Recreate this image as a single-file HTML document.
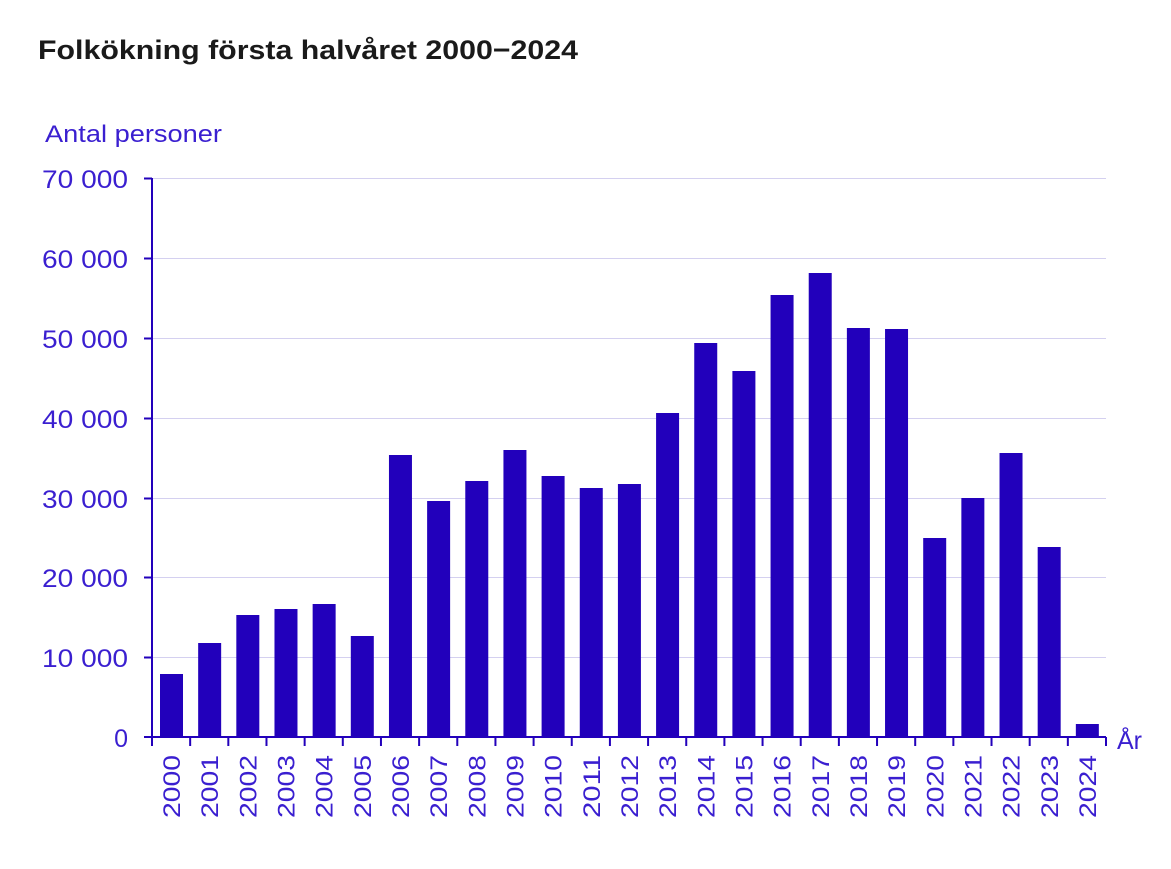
<!DOCTYPE html>
<html><head><meta charset="utf-8"><style>
body{margin:0;background:#fff;}
svg text{font-family:"Liberation Sans",sans-serif;}
</style></head><body>
<svg width="1171" height="864" xmlns="http://www.w3.org/2000/svg">
<text x="38" y="59" font-size="27" font-weight="bold" fill="#1a1a1a" textLength="540" lengthAdjust="spacingAndGlyphs">Folkökning första halvåret 2000−2024</text>
<text x="45" y="142" font-size="24" fill="#3a1fd0" textLength="177" lengthAdjust="spacingAndGlyphs">Antal personer</text>
<g stroke="#d4d0f0" stroke-width="1">
<line x1="152" x2="1106" y1="178.5" y2="178.5"/><line x1="152" x2="1106" y1="258.5" y2="258.5"/>
<line x1="152" x2="1106" y1="338.5" y2="338.5"/><line x1="152" x2="1106" y1="418.5" y2="418.5"/>
<line x1="152" x2="1106" y1="498.5" y2="498.5"/><line x1="152" x2="1106" y1="577.5" y2="577.5"/>
<line x1="152" x2="1106" y1="657.5" y2="657.5"/>
</g>
<g font-size="25" fill="#3a1fd0" text-anchor="end">
<text x="128" y="188" textLength="86" lengthAdjust="spacingAndGlyphs">70 000</text><text x="128" y="268" textLength="86" lengthAdjust="spacingAndGlyphs">60 000</text><text x="128" y="348" textLength="86" lengthAdjust="spacingAndGlyphs">50 000</text>
<text x="128" y="428" textLength="86" lengthAdjust="spacingAndGlyphs">40 000</text><text x="128" y="508" textLength="86" lengthAdjust="spacingAndGlyphs">30 000</text><text x="128" y="587" textLength="86" lengthAdjust="spacingAndGlyphs">20 000</text>
<text x="128" y="667" textLength="86" lengthAdjust="spacingAndGlyphs">10 000</text><text x="128" y="747">0</text>
</g>
<g stroke="#2200bb" stroke-width="2">
<line x1="152" x2="152" y1="178" y2="746"/>
<line x1="144" x2="152" y1="178.5" y2="178.5"/><line x1="144" x2="152" y1="258.5" y2="258.5"/>
<line x1="144" x2="152" y1="338.5" y2="338.5"/><line x1="144" x2="152" y1="418.5" y2="418.5"/>
<line x1="144" x2="152" y1="498.5" y2="498.5"/><line x1="144" x2="152" y1="577.5" y2="577.5"/>
<line x1="144" x2="152" y1="657.5" y2="657.5"/>
<line x1="144" x2="1106" y1="737" y2="737"/>
</g>
<g id="bars" fill="#2200bb"></g>
<g id="ticks" stroke="#2200bb" stroke-width="2"></g>
<g id="labels" font-size="24" fill="#3a1fd0"></g>
<text x="1117" y="749" font-size="25" fill="#3a1fd0">År</text>
<script>
var tops=[674,643,615,609,604,636,455,501,481,450,476,488,484,413,343,371,295,273,328,329,538,498,453,547,724];
var ns="http://www.w3.org/2000/svg",w=38.16;
var b=document.getElementById('bars'),t=document.getElementById('ticks'),l=document.getElementById('labels');
for(var i=0;i<25;i++){
 var x=152+i*w;
 var r=document.createElementNS(ns,'rect');r.setAttribute('x',x+8);r.setAttribute('y',tops[i]);r.setAttribute('width',23);r.setAttribute('height',737-tops[i]);b.appendChild(r);
 var tk=document.createElementNS(ns,'line');tk.setAttribute('x1',x+w);tk.setAttribute('x2',x+w);tk.setAttribute('y1',737);tk.setAttribute('y2',746);t.appendChild(tk);
 var tx=document.createElementNS(ns,'text');var cx=x+w/2+9,cy=755;
 tx.setAttribute('x',cx);tx.setAttribute('y',cy);tx.setAttribute('text-anchor','end');
 tx.setAttribute('textLength','63');tx.setAttribute('lengthAdjust','spacingAndGlyphs');
 tx.setAttribute('transform','rotate(-90 '+cx+' '+cy+')');tx.textContent=2000+i;l.appendChild(tx);
}
var tk0=document.createElementNS(ns,'line');tk0.setAttribute('x1',152);tk0.setAttribute('x2',152);tk0.setAttribute('y1',737);tk0.setAttribute('y2',746);t.appendChild(tk0);
</script>
</svg>
</body></html>
